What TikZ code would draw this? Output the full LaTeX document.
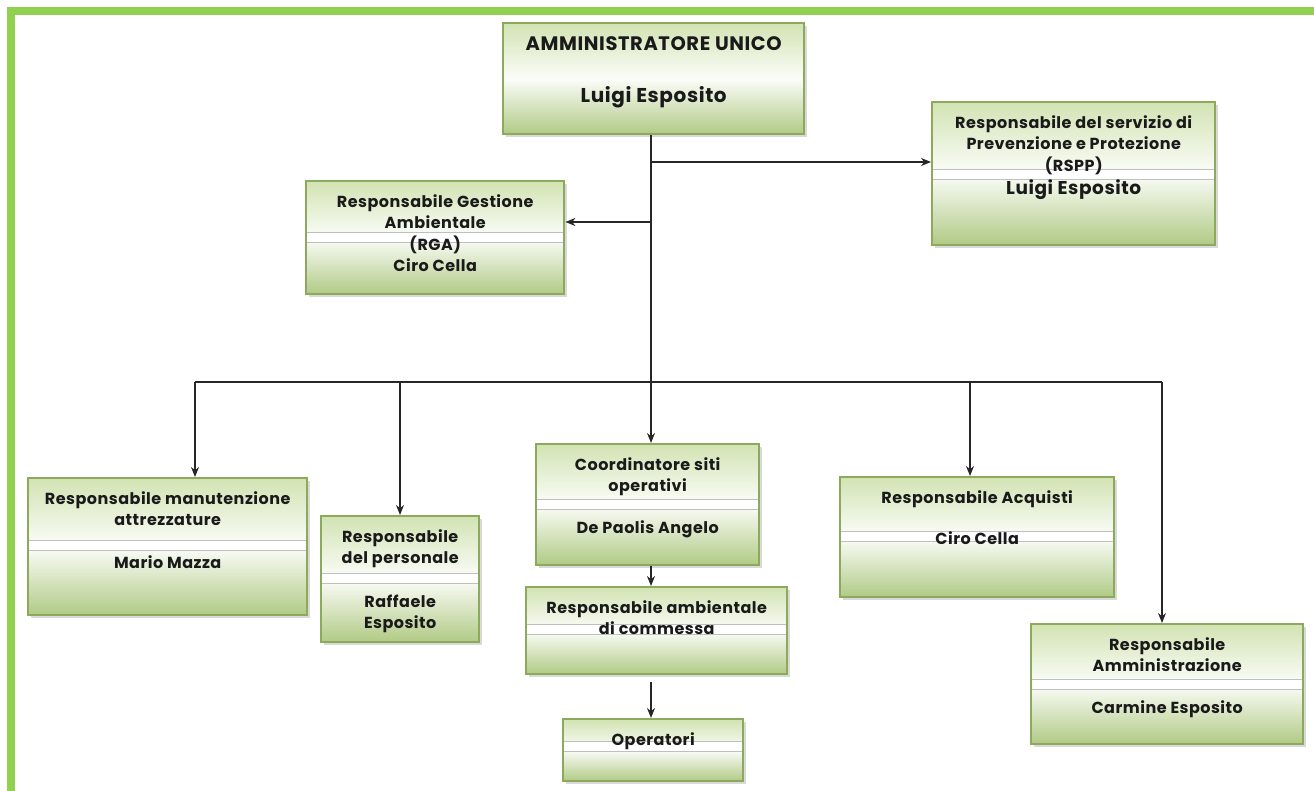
\documentclass[tikz,border=0pt]{standalone}
\usepackage{fontspec}
\setmainfont{Poppins}[LetterSpace=3]
\usetikzlibrary{arrows.meta,positioning,shadows,calc}

\definecolor{framegreen}{HTML}{92D050}
\definecolor{boxline}{HTML}{8DAA5C}
\definecolor{boxtop}{HTML}{D2E3B3}
\definecolor{boxbot}{HTML}{B0CA85}
\definecolor{inktext}{HTML}{1A1A1A}

\begin{document}
\begin{tikzpicture}[x=1pt,y=-1pt,->,>={Stealth[length=10pt,width=8pt]},line width=1.3pt,color=black!85]
    \tikzstyle{box}=[draw=boxline,line width=2.4pt,anchor=north west,inner sep=0pt,
        top color=boxtop,bottom color=boxbot,middle color=white!92!boxtop,
        drop shadow={shadow xshift=2.5pt,shadow yshift=-2.5pt,opacity=0.3}]
    \tikzstyle{txt}=[align=center,inner sep=0pt,text=inktext,font=\fontsize{16}{21.5}\selectfont\bfseries]
    \tikzset{bandbox/.style={box,
        path picture={
            \fill[white] ($(path picture bounding box.north west)+(0,#1)$) rectangle ($(path picture bounding box.north east)+(0,#1+10)$);
            \draw[-,black!25,line width=0.8pt]
                ($(path picture bounding box.north west)+(0,#1)$) -- ($(path picture bounding box.north east)+(0,#1)$)
                ($(path picture bounding box.north west)+(0,#1+10)$) -- ($(path picture bounding box.north east)+(0,#1+10)$);
        }}}

    \useasboundingbox (0,0) rectangle (1314,791);
    \fill[framegreen] (7,7) rectangle (1314,15);
    \fill[framegreen] (7,7) rectangle (15,791);

    % boxes
    \node[box,minimum width=301pt,minimum height=111pt]      (au)    at (502,22)   {};
    \node[bandbox=67,minimum width=283pt,minimum height=143pt] (rspp)  at (931,101)  {};
    \node[bandbox=51,minimum width=258pt,minimum height=113pt] (rga)   at (305,180)  {};
    \node[bandbox=62,minimum width=279pt,minimum height=137pt] (manu)  at (27,477)   {};
    \node[bandbox=57,minimum width=158pt,minimum height=126pt] (pers)  at (320,515)  {};
    \node[bandbox=55,minimum width=223pt,minimum height=121pt] (coord) at (535,443)  {};
    \node[bandbox=37,minimum width=261pt,minimum height=87pt]  (ramb)  at (525,586)  {};
    \node[bandbox=22,minimum width=180pt,minimum height=62pt]  (oper)  at (562,718)  {};
    \node[bandbox=54,minimum width=274pt,minimum height=120pt] (acq)   at (839,476)  {};
    \node[bandbox=55,minimum width=272pt,minimum height=120pt] (amm)   at (1030,623) {};

    % texts
    \node[txt,below=14pt of au.north]    (au-t)    {\fontsize{19.5}{24}\selectfont AMMINISTRATORE UNICO\\[30pt]\fontsize{20}{24}\selectfont Luigi Esposito};
    \node[txt,below=14pt of rspp.north]  (rspp-t)  {Responsabile del servizio di\\Prevenzione e Protezione\\(RSPP)\\[2pt]\fontsize{18.5}{22}\selectfont Luigi Esposito};
    \node[txt,below=14pt of rga.north]   (rga-t)   {Responsabile Gestione\\Ambientale\\(RGA)\\Ciro Cella};
    \node[txt,below=14pt of manu.north]  (manu-t)  {Responsabile manutenzione\\attrezzature\\[21pt]Mario Mazza};
    \node[txt,below=14pt of pers.north]  (pers-t)  {Responsabile\\del personale\\[22pt]Raffaele\\Esposito};
    \node[txt,below=14pt of coord.north] (coord-t) {Coordinatore siti\\operativi\\[20pt]De Paolis Angelo};
    \node[txt,below=14pt of ramb.north]  (ramb-t)  {Responsabile ambientale\\di commessa};
    \node[txt,below=14pt of oper.north]  (oper-t)  {Operatori};
    \node[txt,below=14pt of acq.north]   (acq-t)   {Responsabile Acquisti\\[20pt]Ciro Cella};
    \node[txt,below=14pt of amm.north]   (amm-t)   {Responsabile\\Amministrazione\\[20pt]Carmine Esposito};

    % connectors
    \coordinate (j1) at (651,162);
    \coordinate (j2) at (651,222);
    \coordinate (bm) at (195,382);
    \coordinate (bp) at (400,382);
    \coordinate (ba) at (970,382);
    \coordinate (bn) at (1162,382);

    \draw (au.south -| j1) -- (j1 |- coord.north);
    \draw (j1) -- (j1 -| rspp.west);
    \draw (j2) -- (j2 -| rga.east);
    \draw[-] (bm) -- (bn);
    \draw (bm) -- (bm |- manu.north);
    \draw (bp) -- (bp |- pers.north);
    \draw (ba) -- (ba |- acq.north);
    \draw (bn) -- (bn |- amm.north);
    \draw (j1 |- coord.south) -- (j1 |- ramb.north);
    \draw[shorten <=7pt] (j1 |- ramb.south) -- (j1 |- oper.north);
\end{tikzpicture}
\end{document}
